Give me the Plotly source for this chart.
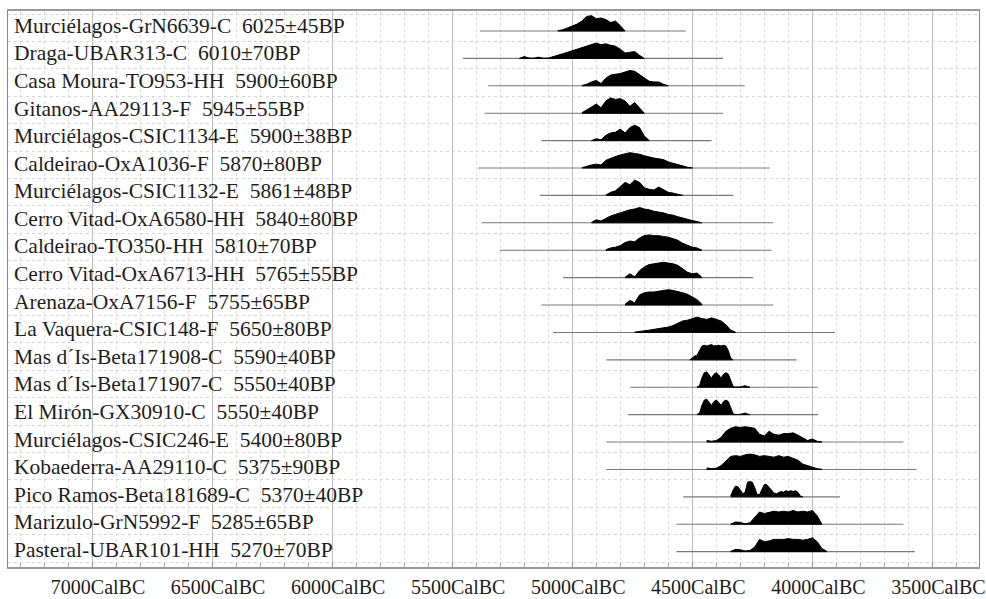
import plotly.graph_objects as go

# ---------------- data ----------------
labels = [
    "Murciélagos-GrN6639-C  6025±45BP",
    "Draga-UBAR313-C  6010±70BP",
    "Casa Moura-TO953-HH  5900±60BP",
    "Gitanos-AA29113-F  5945±55BP",
    "Murciélagos-CSIC1134-E  5900±38BP",
    "Caldeirao-OxA1036-F  5870±80BP",
    "Murciélagos-CSIC1132-E  5861±48BP",
    "Cerro Vitad-OxA6580-HH  5840±80BP",
    "Caldeirao-TO350-HH  5810±70BP",
    "Cerro Vitad-OxA6713-HH  5765±55BP",
    "Arenaza-OxA7156-F  5755±65BP",
    "La Vaquera-CSIC148-F  5650±80BP",
    "Mas d´Is-Beta171908-C  5590±40BP",
    "Mas d´Is-Beta171907-C  5550±40BP",
    "El Mirón-GX30910-C  5550±40BP",
    "Murciélagos-CSIC246-E  5400±80BP",
    "Kobaederra-AA29110-C  5375±90BP",
    "Pico Ramos-Beta181689-C  5370±40BP",
    "Marizulo-GrN5992-F  5285±65BP",
    "Pasteral-UBAR101-HH  5270±70BP",
]

# plotted range (cal BC) of each grey line
range_from = [5385, 5455, 5350, 5365, 5128, 5392, 5135, 5378, 5302, 5038,
              5128, 5080, 4858, 4760, 4767, 4858, 4858, 4538, 4566, 4566]
range_to = [4527, 4372, 4281, 4372, 4420, 4177, 4330, 4163, 4170, 4247,
            4163, 3906, 4066, 3976, 3976, 3621, 3566, 3885, 3621, 3573]

# probability curves: first year (cal BC), year step, relative heights
dist_start = [5060, 5220, 4960, 4960, 4920, 4960, 4860, 4920, 4860, 4780,
              4780, 4740, 4510, 4480, 4480, 4440, 4440, 4340, 4340, 4340]
dist_step = [20, 20, 20, 20, 20, 20, 20, 20, 20, 20,
             20, 20, 10, 10, 10, 20, 20, 10, 20, 20]
dist_values = [
    [0.02, 0.08, 0.2, 0.3, 0.45, 0.65, 0.95, 1.0, 0.8, 0.85, 0.75, 0.55, 0.65, 0.35, 0.0],
    [0.0, 0.12, 0.02, 0.01, 0.08, 0.01, 0.02, 0.1, 0.2, 0.3, 0.4, 0.5, 0.6, 0.7, 0.85, 0.95,
     1.0, 0.9, 0.95, 0.85, 0.8, 0.6, 0.35, 0.4, 0.45, 0.2, 0.02],
    [0.02, 0.1, 0.25, 0.35, 0.15, 0.5, 0.7, 0.75, 0.8, 0.9, 1.0, 0.95, 0.75, 0.5, 0.3, 0.25,
     0.25, 0.1, 0.02],
    [0.03, 0.2, 0.4, 0.6, 0.35, 0.8, 1.0, 0.9, 0.95, 0.8, 0.45, 0.7, 0.35, 0.03],
    [0.0, 0.12, 0.05, 0.35, 0.5, 0.55, 0.75, 0.5, 0.85, 1.0, 0.85, 0.3, 0.02],
    [0.02, 0.12, 0.2, 0.25, 0.2, 0.5, 0.65, 0.75, 0.85, 0.95, 1.0, 0.95, 0.9, 0.8, 0.7, 0.65,
     0.6, 0.55, 0.4, 0.3, 0.22, 0.12, 0.05, 0.01],
    [0.02, 0.2, 0.3, 0.6, 0.85, 0.7, 1.0, 0.85, 0.5, 0.4, 0.35, 0.55, 0.4, 0.2, 0.15, 0.1, 0.01],
    [0.02, 0.2, 0.12, 0.3, 0.45, 0.55, 0.65, 0.8, 0.85, 0.9, 1.0, 0.9, 0.85, 0.75, 0.7, 0.65,
     0.55, 0.5, 0.4, 0.3, 0.22, 0.15, 0.08, 0.02],
    [0.03, 0.15, 0.2, 0.3, 0.5, 0.6, 0.55, 0.8, 0.95, 1.0, 0.95, 0.95, 0.9, 0.85, 0.75, 0.65,
     0.45, 0.3, 0.2, 0.15, 0.03],
    [0.02, 0.25, 0.05, 0.45, 0.7, 0.85, 0.9, 0.95, 1.0, 0.95, 0.9, 0.8, 0.6, 0.35, 0.25, 0.3, 0.02],
    [0.05, 0.3, 0.15, 0.65, 0.8, 0.85, 0.85, 0.9, 0.95, 1.0, 0.95, 0.9, 0.8, 0.7, 0.5, 0.35, 0.05],
    [0.02, 0.08, 0.12, 0.15, 0.2, 0.25, 0.3, 0.35, 0.45, 0.6, 0.75, 0.8, 0.9, 1.0, 0.9, 0.85,
     0.95, 0.85, 0.75, 0.5, 0.15, 0.02],
    [0.0, 0.15, 0.25, 0.3, 0.6, 0.9, 0.95, 0.9, 0.95, 1.0, 0.9, 0.95, 0.95, 0.9, 0.95, 0.9,
     0.6, 0.1, 0.0],
    [0.02, 0.1, 0.6, 0.95, 1.0, 0.8, 0.6, 0.85, 0.95, 0.8, 0.6, 0.85, 0.95, 0.85, 0.4, 0.05,
     0.0, 0.0, 0.02, 0.06, 0.1, 0.04, 0.0],
    [0.02, 0.1, 0.6, 0.95, 1.0, 0.8, 0.6, 0.85, 0.95, 0.8, 0.6, 0.85, 0.95, 0.85, 0.4, 0.05,
     0.0, 0.0, 0.02, 0.06, 0.1, 0.04, 0.0],
    [0.1, 0.05, 0.1, 0.3, 0.7, 0.9, 1.0, 0.95, 1.0, 0.95, 0.9, 0.5, 0.4, 0.7, 0.5, 0.45,
     0.55, 0.55, 0.6, 0.45, 0.3, 0.1, 0.2, 0.05, 0.0],
    [0.1, 0.05, 0.08, 0.25, 0.55, 0.85, 0.9, 0.85, 0.95, 1.0, 0.95, 0.85, 0.9, 0.85, 0.8, 0.9,
     0.8, 0.85, 0.75, 0.6, 0.35, 0.25, 0.2, 0.05, 0.01],
    [0.05, 0.45, 0.7, 0.65, 0.45, 0.2, 0.3, 0.95, 1.0, 0.95, 0.6, 0.15, 0.15, 0.5, 0.8, 0.8,
     0.6, 0.45, 0.25, 0.2, 0.3, 0.35, 0.3, 0.4, 0.35, 0.4, 0.35, 0.4, 0.3, 0.05, 0.0],
    [0.0, 0.15, 0.12, 0.03, 0.1, 0.45, 0.8, 0.7, 0.75, 0.85, 0.8, 0.85, 0.8, 0.9, 0.8, 0.85,
     0.8, 0.9, 0.55, 0.05],
    [0.02, 0.15, 0.12, 0.05, 0.08, 0.3, 0.8, 0.65, 0.7, 0.8, 0.8, 0.8, 0.85, 0.8, 0.8, 0.75,
     0.8, 0.9, 0.65, 0.2, 0.02],
]

tick_years = [7000, 6500, 6000, 5500, 5000, 4500, 4000, 3500]
tick_suffix = "CalBC"

# ---------------- figure ----------------
FONT = "Liberation Serif, Times New Roman, serif"
H = 0.56  # max curve height in row units

fig = go.Figure()

for i in range(len(labels)):
    fig.add_trace(go.Scatter(
        x=[range_from[i], range_to[i]], y=[i, i], mode="lines",
        line=dict(color="#7a7a7a", width=1.1), hoverinfo="skip", showlegend=False))

for i, vals in enumerate(dist_values):
    yrs = [dist_start[i] - k * dist_step[i] for k in range(len(vals))]
    xs = yrs + yrs[::-1]
    ys = [i - H * v for v in vals] + [i] * len(vals)
    fig.add_trace(go.Scatter(
        x=xs, y=ys, mode="lines", fill="toself", fillcolor="black",
        line=dict(color="black", width=1), hoverinfo="skip", showlegend=False))

for i, lab in enumerate(labels):
    fig.add_annotation(
        x=0, xref="paper", xanchor="left", xshift=4,
        y=i - 0.19 + 0.0066 * i, yref="y", yanchor="middle",
        text=lab, showarrow=False,
        font=dict(family=FONT, size=21.5, color="#1e1e1e"))

fig.update_xaxes(
    range=[7350, 3306], automargin=False,
    tickmode="array", tickvals=tick_years,
    ticktext=[f"{t}{tick_suffix}" for t in tick_years],
    tickfont=dict(family=FONT, size=20, color="#1e1e1e"),
    ticks="inside", ticklen=5, tickcolor="#999",
    ticklabelstandoff=1, ticklabelshift=-6,
    showgrid=True, gridcolor="#bdbdbd", gridwidth=1,
    minor=dict(tickmode="linear", tick0=3500, dtick=100, showgrid=True,
               gridcolor="#dcdcdc", griddash="dot", gridwidth=1,
               ticks="inside", ticklen=4, tickcolor="#aaa"),
    showline=True, linecolor="#999", linewidth=2, mirror=True,
    zeroline=False,
)
fig.update_yaxes(
    range=[19.56, -0.73], automargin=False,
    tickmode="array", tickvals=[k + 0.38 for k in range(-1, 20)],
    showticklabels=False, ticks="",
    showgrid=True, gridcolor="#d6d6d6", griddash="dot", gridwidth=1,
    showline=True, linecolor="#888", linewidth=1, mirror=True,
    zeroline=False,
)
fig.update_layout(
    width=986, height=599,
    margin=dict(l=8, r=7, t=11, b=32),
    paper_bgcolor="white", plot_bgcolor="white",
    showlegend=False,
)

fig.write_html("out.html",
               config={"displayModeBar": False, "staticPlot": True},
               post_script="document.body.style.margin='0px';"
                           "document.body.style.overflow='hidden';")
